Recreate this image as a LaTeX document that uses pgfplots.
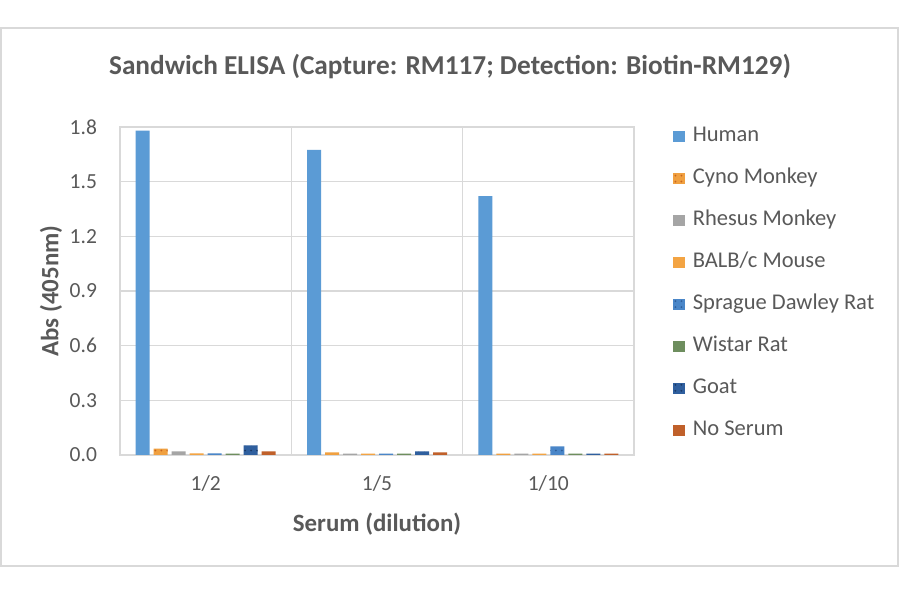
\documentclass[border=0pt]{standalone}
\usepackage{pgfplots}
\pgfplotsset{compat=1.18}
\usepackage{fontspec}
\setmainfont{Carlito}
\usetikzlibrary{patterns}

\definecolor{txt}{HTML}{595959}
\definecolor{gridc}{HTML}{D9D9D9}
\definecolor{human}{HTML}{5B9BD5}
\definecolor{cyno}{HTML}{F0A040}
\definecolor{cynodot}{HTML}{C8651E}
\definecolor{rhesus}{HTML}{A5A5A5}
\definecolor{balb}{HTML}{F3A443}
\definecolor{sdrat}{HTML}{4A86C8}
\definecolor{sddot}{HTML}{2E5E9A}
\definecolor{wistar}{HTML}{6E8E5E}
\definecolor{goat}{HTML}{2F5F9E}
\definecolor{goatdot}{HTML}{1B3A66}
\definecolor{noserum}{HTML}{C0602A}

\begin{document}
\begin{tikzpicture}
% page frame, 1px = 0.5bp
\fill[white] (0,0) rectangle (450bp,297bp);
\draw[gridc, line width=1.2bp] (0.6bp,14bp) rectangle (449bp,283bp);

\node[txt, font=\bfseries\fontsize{13.7}{16}\selectfont] at (225bp,263.5bp)
  {Sandwich ELISA (Capture: RM117; Detection: Biotin-RM129)};

\begin{axis}[
    at={(60bp,69.5bp)}, anchor=south west,
    scale only axis, width=257bp, height=164bp,
    ybar=2bp, bar width=7bp,
    xmin=-0.5, xmax=2.5,
    ymin=0, ymax=1.8,
    xtick={0,1,2}, xticklabels={1/2,1/5,1/10},
    minor xtick={0.5,1.5},
    ytick={0,0.3,0.6,0.9,1.2,1.5,1.8},
    yticklabel style={/pgf/number format/fixed, /pgf/number format/fixed zerofill,
        /pgf/number format/precision=1},
    /pgf/number format/assume math mode=true,
    major tick length=0pt, minor tick length=0pt,
    ymajorgrids, xminorgrids,
    grid style={gridc, line width=0.6bp},
    minor grid style={gridc, line width=0.6bp},
    axis line style={gridc, line width=0.6bp},
    tick label style={txt, font=\fontsize{10.8}{12}\selectfont},
    yticklabel style={xshift=-8bp},
    xticklabel style={yshift=-7bp},
    xlabel={Serum (dilution)},
    ylabel={Abs (405nm)},
    label style={txt, font=\bfseries\fontsize{12.5}{14}\selectfont},
    xlabel style={yshift=-3.5bp},
    ylabel style={yshift=-3bp},
    legend style={at={(1.064,1.023)}, anchor=north west, draw=none, fill=none,
        font=\fontsize{11.3}{13}\selectfont, text=txt, row sep=8.5bp,
        nodes={inner sep=1bp, text height=8bp, text depth=2.5bp},
        /tikz/every odd column/.style={column sep=3bp},
        legend cell align=left},
    legend image code/.code={\fill[#1] (0bp,-2.75bp) rectangle (5.8bp,2.75bp);},
]
\addplot[fill=human, draw=none] coordinates {(0,1.78) (1,1.675) (2,1.42)};
\addplot[fill=cyno, draw=none, postaction={pattern=dots, pattern color=cynodot}]
    coordinates {(0,0.035) (1,0.015) (2,0.008)};
\addplot[fill=rhesus, draw=none] coordinates {(0,0.02) (1,0.008) (2,0.008)};
\addplot[fill=balb, draw=none] coordinates {(0,0.009) (1,0.008) (2,0.008)};
\addplot[fill=sdrat, draw=none, postaction={pattern=dots, pattern color=sddot}]
    coordinates {(0,0.009) (1,0.008) (2,0.048)};
\addplot[fill=wistar, draw=none] coordinates {(0,0.008) (1,0.008) (2,0.008)};
\addplot[fill=goat, draw=none, postaction={pattern=dots, pattern color=goatdot}]
    coordinates {(0,0.053) (1,0.02) (2,0.008)};
\addplot[fill=noserum, draw=none] coordinates {(0,0.02) (1,0.015) (2,0.008)};
\legend{Human,Cyno Monkey,Rhesus Monkey,BALB/c Mouse,Sprague Dawley Rat,Wistar Rat,Goat,No Serum}
\end{axis}
\end{tikzpicture}
\end{document}
